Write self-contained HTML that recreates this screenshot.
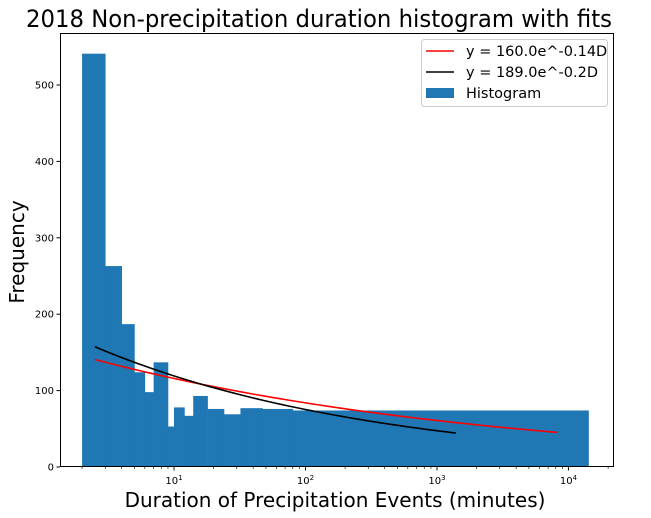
<!DOCTYPE html>
<html><head><meta charset="utf-8"><style>
html,body{margin:0;padding:0;background:#fff;}
svg{display:block;font-family:"DejaVu Sans","Liberation Sans",sans-serif;}
</style></head><body>
<svg id="chart" width="651" height="518" xmlns="http://www.w3.org/2000/svg">
<rect width="651" height="518" fill="#fff"/>
<text x="319" y="27" font-size="24" text-anchor="middle" textLength="586" lengthAdjust="spacingAndGlyphs">2018 Non-precipitation duration histogram with fits</text>
<g id="bars"></g>
<g id="lines"></g>
<g id="axes"></g>
<text x="335" y="507" font-size="20" text-anchor="middle">Duration of Precipitation Events (minutes)</text>
<text transform="translate(24,252) rotate(-90)" font-size="20" text-anchor="middle">Frequency</text>
<g>
<rect x="421.5" y="39.5" width="186" height="67" rx="3" fill="#fff" fill-opacity="0.8" stroke="#ccc"/>
<line x1="426" y1="51" x2="454" y2="51" stroke="red" stroke-width="1.5"/>
<text x="466" y="56" font-size="14.5">y = 160.0e^-0.14D</text>
<line x1="426" y1="72" x2="454" y2="72" stroke="#000" stroke-width="1.5"/>
<text x="466" y="77" font-size="14.5">y = 189.0e^-0.2D</text>
<rect x="426" y="88" width="28" height="10" fill="#1f77b4"/>
<text x="466" y="98" font-size="14.5">Histogram</text>
</g>
</svg>
<script>
const binEdges = [2, 3, 4, 5, 6, 7, 9, 10, 12, 14, 18, 24, 32, 47, 80, 14200];
const binCounts = [541, 263, 187, 124, 98, 137, 53, 78, 67, 93, 76, 69, 77, 76, 74];
const yTicks = [0, 100, 200, 300, 400, 500];
const xMajorExp = [1, 2, 3, 4];
const redFit = [160.0, 0.14, 2.5, 8300];
const blackFit = [189.0, 0.2, 2.5, 1390];

const NS = "http://www.w3.org/2000/svg";
const L = 60, R = 614, T = 33, B = 467;
const X0 = 174, PXDEC = 131.5;
function xs(v){ return X0 + (Math.log10(v) - 1) * PXDEC; }
function ys(v){ return B - v * 0.764; }
function mk(tag, attrs, parent){ const e = document.createElementNS(NS, tag); for (const k in attrs) e.setAttribute(k, attrs[k]); parent.appendChild(e); return e; }

const bars = document.getElementById('bars');
for (let i = 0; i < binCounts.length; i++) {
  const x1 = xs(binEdges[i]), x2 = xs(binEdges[i+1]);
  const r = mk('rect', {x: x1, y: ys(binCounts[i]), width: x2 - x1 + 0.3, height: B - ys(binCounts[i]), fill: '#1f77b4'}, bars);
  
  
}

const lines = document.getElementById('lines');
function fitLine(p, color, name){
  const pts = [];
  const a = Math.log10(p[2]), b = Math.log10(p[3]);
  for (let i = 0; i <= 60; i++) {
    const d = Math.pow(10, a + (b - a) * i / 60);
    pts.push(xs(d).toFixed(2) + ',' + ys(p[0] * Math.pow(d, -p[1])).toFixed(2));
  }
  const pl = mk('polyline', {points: pts.join(' '), fill: 'none', stroke: color, 'stroke-width': 1.6}, lines);
  
  
}
fitLine(redFit, 'red', 'red-fit-line');
fitLine(blackFit, '#000', 'black-fit-line');

const axes = document.getElementById('axes');
const frame = mk('rect', {x: L + 0.5, y: T + 0.5, width: R - L - 1, height: B - T - 1, fill: 'none', stroke: '#000', 'stroke-width': 1}, axes);


yTicks.forEach(v => {
  const y = ys(v);
  const tk = mk('line', {x1: L - 3.5, x2: L, y1: y, y2: y, stroke: '#000'}, axes);
  
  
  const t = mk('text', {x: L - 6, y: y + 3.5, 'font-size': 10, 'text-anchor': 'end'}, axes);
  t.textContent = v;
  
  
});
for (let e = 0; e <= 4; e++) {
  for (let m = 1; m <= 9; m++) {
    const v = m * Math.pow(10, e);
    const x = xs(v);
    if (x < L || x > R) continue;
    const major = m === 1;
    const tk = mk('line', {x1: x, x2: x, y1: B, y2: B + (major ? 3.5 : 2), stroke: '#000', 'stroke-width': major ? 0.9 : 0.6}, axes);
    
    
  }
}
xMajorExp.forEach(e => {
  const x = xs(Math.pow(10, e));
  const t = mk('text', {x: x, y: B + 17, 'font-size': 10, 'text-anchor': 'middle'}, axes);
  
  
  const s1 = document.createElementNS(NS, 'tspan'); s1.textContent = '10'; t.appendChild(s1);
  const s2 = document.createElementNS(NS, 'tspan'); s2.setAttribute('dy', '-4'); s2.setAttribute('font-size', '7'); s2.textContent = e; t.appendChild(s2);
});
</script>
</body></html>
